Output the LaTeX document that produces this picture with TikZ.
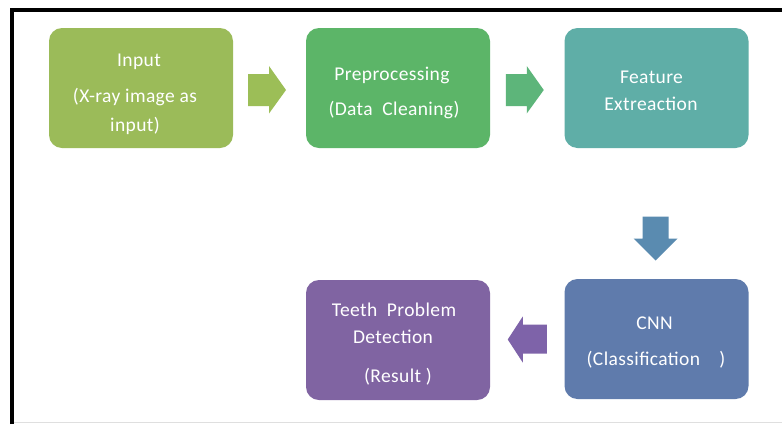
\documentclass[tikz,border=0pt]{standalone}
\usepackage{fontspec}
\setmainfont{Carlito}
\usetikzlibrary{calc}
\definecolor{cInput}{HTML}{9BBB59}
\definecolor{cPrep}{HTML}{5CB568}
\definecolor{cFeat}{HTML}{5FAEA7}
\definecolor{cCnn}{HTML}{5F7BAC}
\definecolor{cRes}{HTML}{8064A2}
\definecolor{aOne}{HTML}{9CBE57}
\definecolor{aTwo}{HTML}{5DB57A}
\definecolor{aDown}{HTML}{5A8BB0}
\definecolor{aLeft}{HTML}{7E63A9}
\begin{document}
\begin{tikzpicture}[x=1pt,y=-1pt,
  box/.style={rounded corners=13pt, inner sep=0pt, minimum width=184pt, minimum height=120pt},
  txt/.style={text=white, font=\fontsize{19.5}{22}\selectfont\addfontfeature{LetterSpace=2}, anchor=base, inner sep=0pt}]
\useasboundingbox (0,0) rectangle (782,424);
\fill[white] (0,0) rectangle (782,424);

% frame
\draw[line width=3.5pt] (12,424) -- (12,10) -- (782,10);
\draw[gray!25, line width=1pt] (14,422.5) -- (782,422.5);

% process boxes
\node[box, fill=cInput] (input) at (141,88) {};
\node[box, fill=cPrep]  (prep)  at (398,88) {};
\node[box, fill=cFeat]  (feat)  at (656.5,88) {};
\node[box, fill=cCnn]   (cnn)   at (656.5,339) {};
\node[box, fill=cRes]   (res)   at (398,340) {};

% box labels
\node[txt] (inputA) at (139,66)  {Input};
\node[txt] (inputB) at (135,102) {(X-ray image as};
\node[txt] (inputC) at (135,131) {input)};
\node[txt] (prepA)  at (392,80)  {Preprocessing};
\node[txt] (prepB)  at (394,115) {(Data\ \ Cleaning)};
\node[txt] (featA)  at (651.5,83) {Feature};
\node[txt] (featB)  at (651,110) {Extreaction};
\node[txt] (cnnA)   at (654.5,329) {CNN};
\node[txt] (cnnB)   at (656,365) {(Classification\ \ \ \ )};
\node[txt] (resA)   at (394,316) {Teeth\ \ Problem};
\node[txt] (resB)   at (393,343) {Detection};
\node[txt] (resC)   at (398,382) {(Result\ )};

% block arrows between the boxes
\coordinate (ar1) at ($(input.east)!0.5!(prep.west)$);
\coordinate (ar2) at ($(prep.east)!0.5!(feat.west)$);
\coordinate (ar3) at ($(feat.south)!0.5!(cnn.north)$);
\coordinate (ar4) at ($(res.east)!0.5!(cnn.west)$);

\fill[aOne] ($(ar1)+(-21.5,-14)$) -- ($(ar1)+(-0.5,-14)$) -- ($(ar1)+(-0.5,-22)$)
  -- ($(ar1)+(16.5,2)$) -- ($(ar1)+(-0.5,25.5)$) -- ($(ar1)+(-0.5,18)$)
  -- ($(ar1)+(-21.5,18)$) -- cycle;
\fill[aTwo] ($(ar2)+(-21.5,-14)$) -- ($(ar2)+(-0.5,-14)$) -- ($(ar2)+(-0.5,-22)$)
  -- ($(ar2)+(16.5,2)$) -- ($(ar2)+(-0.5,25.5)$) -- ($(ar2)+(-0.5,18)$)
  -- ($(ar2)+(-21.5,18)$) -- cycle;
\fill[aDown] ($(ar3)+(-14,3)$) -- ($(ar3)+(12,3)$) -- ($(ar3)+(12,25)$)
  -- ($(ar3)+(21,25)$) -- ($(ar3)+(-1,47)$) -- ($(ar3)+(-23,25)$)
  -- ($(ar3)+(-14,25)$) -- cycle;
\fill[aLeft] ($(ar4)+(19.5,-15)$) -- ($(ar4)+(-4.5,-15)$) -- ($(ar4)+(-4.5,-23)$)
  -- ($(ar4)+(-19.5,0)$) -- ($(ar4)+(-4.5,23)$) -- ($(ar4)+(-4.5,14)$)
  -- ($(ar4)+(19.5,14)$) -- cycle;
\end{tikzpicture}
\end{document}
